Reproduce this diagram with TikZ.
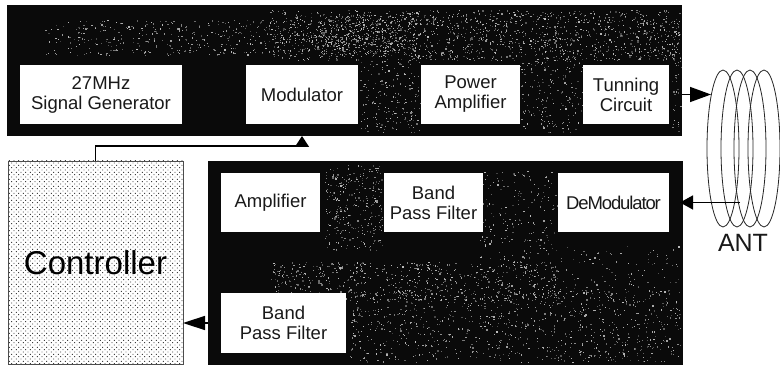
\documentclass[tikz,border=0pt]{standalone}
\usepackage{fontspec}
\setmainfont{Liberation Sans}
\usetikzlibrary{arrows.meta,shapes.geometric,patterns.meta}
\tikzset{
 panel/.style={draw=none,fill=black!96,inner sep=0pt,outer sep=0pt},
 blockbox/.style={fill=white,draw=none,inner sep=0pt,outer sep=0pt,align=center,font=\fontsize{18.5}{20}\selectfont,text=black!90},
 coil/.style={ellipse,draw=black!85,line width=0.8pt,minimum width=32pt,minimum height=157pt,inner sep=0pt,outer sep=0pt},
 conn/.style={line width=1.5pt,black,-{Triangle[length=21pt,width=15pt]}},
 connshort/.style={line width=1.5pt,black,-{Triangle[length=13pt,width=14pt]}},
 connctrl/.style={line width=1.5pt,black,-{Triangle[length=22pt,width=14pt]}},
}
\newcommand{\speck}[5]{% x0 x1 y0 y1 count
 \foreach \n in {1,...,#5}{
  \pgfmathsetmacro{\sx}{#1+rnd*(#2-#1)}
  \pgfmathsetmacro{\sy}{#3+rnd*(#4-#3)}
  \pgfmathsetmacro{\sg}{25+rnd*50}
  \fill[white!\sg!black] (\sx,\sy) rectangle ++(1.2,1.2);
 }}
\begin{document}
\begin{tikzpicture}[x=1pt,y=-1pt]
\useasboundingbox[fill=white] (0,0) rectangle (780,366);
\pgfmathsetseed{4217}
% dark panels
\node[panel,minimum width=675pt,minimum height=131pt] (top) at (344.5,70.5) {};
\node[panel,minimum width=475pt,minimum height=204pt] (bot) at (445.5,263) {};
% speckle of the scanned halftone
\speck{45}{350}{20}{55}{450}
\speck{270}{420}{10}{60}{400}
\speck{320}{400}{15}{55}{350}
\speck{400}{680}{10}{60}{1000}
\speck{360}{420}{60}{132}{180}
\speck{520}{583}{60}{132}{180}
\speck{672}{681}{20}{134}{50}
\speck{325}{385}{165}{250}{300}
\speck{270}{560}{262}{300}{600}
\speck{350}{680}{290}{362}{900}
\speck{480}{558}{170}{280}{220}
\speck{560}{680}{245}{300}{100}
% controller
\node[draw=black!70,line width=0.7pt,pattern={Dots[radius=0.65pt,distance=3.3pt,angle=45]},pattern color=black!75,minimum width=175pt,minimum height=203pt,inner sep=0pt,outer sep=0pt,font=\fontsize{33}{36}\selectfont] (ctrl) at (95.5,262.5) {Controller};
% antenna coils
\node[coil] (c1) at (723,148.5) {};
\node[coil] (c2) at (737,148.5) {};
\node[coil] (c3) at (750,148.5) {};
\node[coil] (c4) at (764,148.5) {};
% blocks
\node[blockbox,minimum width=162pt,minimum height=59pt] (gen) at (101,94.5) {27MHz\\Signal Generator};
\node[blockbox,minimum width=112pt,minimum height=59pt] (mod) at (302,94.5) {Modulator};
\node[blockbox,minimum width=99pt,minimum height=59pt] (pa) at (470.5,94.5) {Power\\Amplifier};
\node[blockbox,minimum width=86pt,minimum height=59pt] (tun) at (626,94.5) {Tunning\\Circuit};
\node[blockbox,minimum width=99pt,minimum height=59pt] (amp) at (270.5,202.5) {Amplifier};
\node[blockbox,minimum width=99pt,minimum height=59pt] (bpfa) at (433.5,202.5) {Band\\Pass Filter};
\node[blockbox,minimum width=111pt,minimum height=59pt] (dem) at (613.5,202.5) {\addfontfeature{LetterSpace=-6}DeModulator};
\node[blockbox,minimum width=125pt,minimum height=60pt] (bpfb) at (283.5,323) {Band\\Pass Filter};
\node[font=\fontsize{25}{28}\selectfont,text=black!90] (ant) at (743,243) {ANT};
% free connector ends
\coordinate (tipt) at (711,94.5);
\coordinate (coilp) at (740,202.5);
\coordinate (tipd) at (680,202.5);
\coordinate (bend) at (95.5,146);
% connectors
\draw[conn] (top.east |- tun.east) -- (tipt);
\draw[connshort] (coilp) -- (tipd);
\draw[connctrl] (bot.west |- bpfb.west) -- (ctrl.east |- bpfb.west);
\draw[line width=1.3pt,-{Triangle[length=11pt,width=14pt]}] (ctrl.north) -- (bend) -| (mod.south |- top.south);
\end{tikzpicture}
\end{document}
